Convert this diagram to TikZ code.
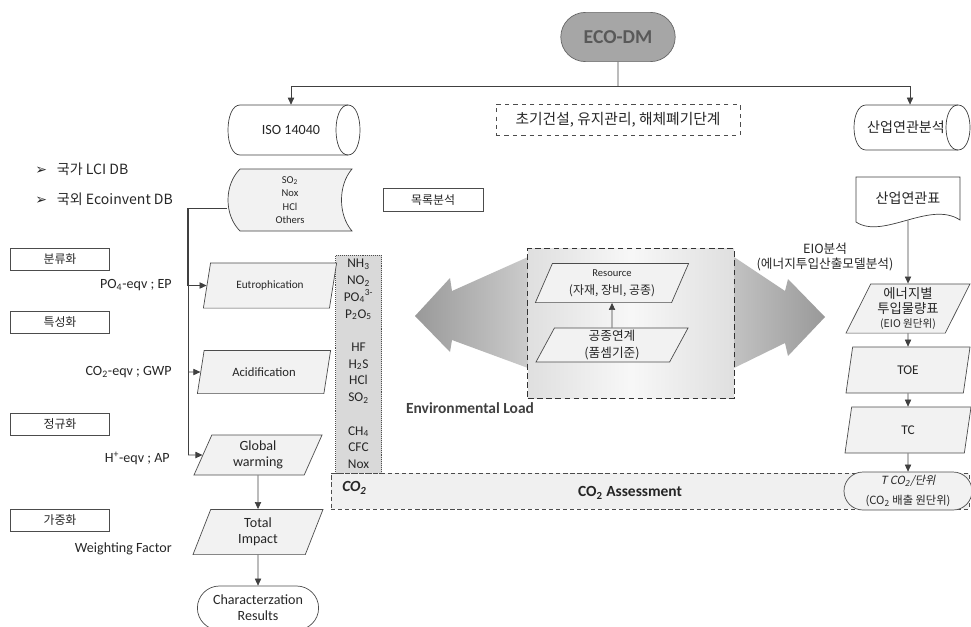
\documentclass[tikz,border=0pt]{standalone}
\usepackage{fontspec}
\setmainfont{Carlito}
\newfontfamily\kr{Noto Sans CJK KR}
\newfontfamily\krit[FakeSlant=0.2]{Noto Sans CJK KR}
\newfontfamily\sym{DejaVu Sans}
\usetikzlibrary{shapes.geometric,shapes.misc,arrows.meta}

\begin{document}
\begin{tikzpicture}[x=0.025cm,y=-0.025cm,>={Triangle[length=5pt,width=4.5pt]},
  flow/.style={draw=black!70,line width=0.5pt,text=black!85,inner sep=1pt,align=center},
  para/.style={flow,trapezium,trapezium left angle=60,trapezium right angle=120,trapezium stretches body=true,fill=gray!10},
  pill/.style={flow,rounded rectangle},
  tag/.style={flow,rectangle,minimum width=2.48cm,minimum height=0.55cm,font=\kr\fontsize{8.5}{10}\selectfont},
  lbl/.style={text=black!85,inner sep=0pt,align=center},
  conn/.style={draw=black!75,line width=0.5pt}]
\useasboundingbox (0,0) rectangle (971,626);

\node (eco) [pill,fill=gray!70,draw=black!60,minimum width=2.93cm,minimum height=1.23cm,text=black!65,font=\bfseries\fontsize{14}{16}\selectfont] at (618,37) {ECO-DM};
\draw[conn,fill=white] (240,105) -- (348,105) .. controls (364,105) and (364,155) .. (348,155) -- (240,155) .. controls (224,155) and (224,105) .. (240,105) -- cycle;
\draw[conn] (348,105) .. controls (332,105) and (332,155) .. (348,155);
\node (iso) [lbl,minimum width=3.28cm,minimum height=1.25cm,font=\fontsize{10}{12}\selectfont] at (291,130) {ISO 14040};
\node (stage) [flow,dashed,minimum width=6.1cm,minimum height=0.78cm,font=\kr\fontsize{10.5}{12}\selectfont] at (618,120) {초기건설, 유지관리, 해체폐기단계};
\draw[conn,fill=white] (866,105) -- (958,105) .. controls (974,105) and (974,150) .. (958,150) -- (866,150) .. controls (850,150) and (850,105) .. (866,105) -- cycle;
\draw[conn] (958,105) .. controls (942,105) and (942,150) .. (958,150);
\node (io) [lbl,minimum width=2.9cm,minimum height=1.13cm,font=\kr\fontsize{10}{12}\selectfont] at (906,127.5) {산업연관분석};
\coordinate (split) at (618,86);
\draw[conn] (eco) -- (split);
\draw[conn,->] (split) -| (iso);
\draw[conn,->] (split) -| ([xshift=0.1cm]io.north);

\node (dbkr) [lbl,anchor=west,font=\kr\fontsize{10}{12}\selectfont] at (35,169) {{\sym\fontsize{10}{12}\selectfont ➢}\hspace{7pt}국가 LCI DB};
\node (dbeco) [lbl,anchor=west,font=\kr\fontsize{10}{12}\selectfont] at (35,199) {{\sym\fontsize{10}{12}\selectfont ➢}\hspace{7pt}국외 Ecoinvent DB};

\draw[conn,fill=gray!10] (240,169) -- (352,169) .. controls (338,185) and (338,215) .. (352,231) -- (240,231) .. controls (224,215) and (224,185) .. (240,169) -- cycle;
\node (lci) [lbl,minimum width=3.13cm,minimum height=1.55cm,font=\fontsize{7.5}{9.6}\selectfont] at (290,200) {SO\textsubscript{2}\\Nox\\HCl\\Others};
\node (inv) [tag,minimum width=2.5cm,minimum height=0.58cm] at (433,200) {목록분석};

\node (cls) [tag] at (60,259) {분류화};
\node (chr) [tag] at (60,322) {특성화};
\node (nrm) [tag] at (60,424) {정규화};
\node (wgt) [tag] at (60,520) {가중화};
\node (ep) [lbl,anchor=east,font=\fontsize{10}{12}\selectfont] at (172,285) {PO\textsubscript{4}-eqv ; EP};
\node (gwp) [lbl,anchor=east,font=\fontsize{10}{12}\selectfont] at (172,372) {CO\textsubscript{2}-eqv ; GWP};
\node (ap) [lbl,anchor=east,font=\fontsize{10}{12}\selectfont] at (170,458) {H\textsuperscript{+}-eqv ; AP};
\node (wf) [lbl,anchor=east,font=\fontsize{10}{12}\selectfont] at (172,549) {Weighting Factor};

\node (co2box) [draw=black!70,densely dashed,fill=gray!12,minimum width=15.95cm,minimum height=0.9cm,inner sep=0pt] at (650,491) {};
\node (co2lbl) [lbl,anchor=west,font=\bfseries\itshape\fontsize{11}{13}\selectfont] at (342,488) {CO\textsubscript{2}};
\node (assess) [lbl,font=\bfseries\fontsize{11}{13}\selectfont] at (630,493) {CO\textsubscript{2} Assessment};
\node (emis) [draw=black!70,densely dotted,fill=gray!30,minimum width=1.15cm,minimum height=5.45cm,inner sep=0pt,align=center,text=black!85,font=\fontsize{9.5}{11.9}\selectfont] at (358.5,364) {NH\textsubscript{3}\\NO\textsubscript{2}\\PO\textsubscript{4}\textsuperscript{3-}\\P\textsubscript{2}O\textsubscript{5}\\[11.9pt]HF\\H\textsubscript{2}S\\HCl\\SO\textsubscript{2}\\[11.9pt]CH\textsubscript{4}\\CFC\\Nox};

\node (eut) [para,minimum width=3.33cm,minimum height=1.13cm,font=\fontsize{8}{10}\selectfont] at (270,285.5) {Eutrophication};
\node (acid) [para,minimum width=3.33cm,minimum height=1.08cm,font=\fontsize{9}{11}\selectfont] at (264,372) {Acidification};
\node (glob) [para,minimum width=3.2cm,minimum height=1.0cm,font=\fontsize{10}{11.3}\selectfont] at (258,455) {Global\\warming};
\node (tot) [para,minimum width=3.25cm,minimum height=1.13cm,font=\fontsize{10}{11.3}\selectfont] at (258,532) {Total\\Impact};
\node (result) [pill,minimum width=3.1cm,minimum height=1.1cm,font=\fontsize{10}{11.3}\selectfont] at (258,608) {Characterzation\\Results};
\coordinate (trunk) at (188,208);
\draw[conn] (lci.west |- trunk) -- (trunk) -- (trunk |- glob);
\draw[conn,line width=1pt] (trunk) -- (trunk |- eut);
\draw[conn,->] (trunk |- eut) -- (eut);
\draw[conn,->] (trunk |- acid) -- (acid);
\draw[conn,->] (trunk |- glob) -- (glob);
\draw[conn,->] (glob) -- (tot);
\draw[conn,->] (tot) -- (result);

\shade[left color=gray!80,right color=gray!80,middle color=gray!8]
  (415,316) -- (450,278) -- (452,291) -- (528,257) -- (734,257) -- (785,291) -- (788,279) -- (825,317)
  -- (788,356) -- (785,343) -- (734,368) -- (528,368) -- (452,340) -- (450,352) -- cycle;
\node (src) [draw=black!80,dash pattern=on 4pt off 2.5pt,line width=0.7pt,minimum width=5.15cm,minimum height=3.73cm,left color=gray!25,right color=gray!25,middle color=gray!6] at (631,323.5) {};
\node (rsc) [para,minimum width=3.83cm,minimum height=0.98cm,font=\kr\fontsize{8.5}{12.5}\selectfont] at (612,283) {{\rmfamily\fontsize{7.5}{12.5}\selectfont Resource}\\(자재, 장비, 공종)};
\node (wbs) [para,minimum width=3.8cm,minimum height=0.85cm,font=\kr\fontsize{9}{11.5}\selectfont] at (612,345) {공종연계\\(품셈기준)};
\draw[conn,->] (wbs) -- (rsc);
\node (envload) [lbl,text=black!75,font=\bfseries\fontsize{11}{13}\selectfont] at (470,408) {Environmental Load};
\node (eio) [lbl,font=\kr\fontsize{9}{10.6}\selectfont] at (825,257) {EIO분석\\(에너지투입산출모델분석)};

\draw[conn,fill=white] (856,177) -- (960,177) -- (960,220) .. controls (930,200) and (883,240) .. (856,222) -- cycle;
\node (iot) [lbl,minimum width=2.6cm,minimum height=1.1cm,font=\kr\fontsize{10}{12}\selectfont] at (908,198) {산업연관표};
\node (enr) [para,minimum width=3.1cm,minimum height=1.23cm,inner sep=0pt,font=\kr\fontsize{9.5}{10.6}\selectfont] at (908,308.5) {에너지별\\투입물량표\\{\fontsize{7.5}{9}\selectfont(EIO 원단위)}};
\node (toe) [para,minimum width=3.1cm,minimum height=1.15cm,font=\fontsize{9.5}{11}\selectfont] at (908,370) {TOE};
\node (tc) [para,minimum width=3.15cm,minimum height=1.15cm,font=\fontsize{9.5}{11}\selectfont] at (908,430) {TC};
\node (unit) [pill,fill=gray!10,minimum width=3.2cm,minimum height=0.95cm,inner sep=0pt,font=\kr\fontsize{8}{14}\selectfont] at (908,491) {{\krit T CO\textsubscript{2}/단위}\\(CO\textsubscript{2} 배출 원단위)};
\draw[conn,->] (iot) -- (enr);
\draw[conn,->] (enr) -- (toe);
\draw[conn,->] (toe) -- (tc);
\draw[conn,->] (tc) -- (unit);
\end{tikzpicture}
\end{document}
